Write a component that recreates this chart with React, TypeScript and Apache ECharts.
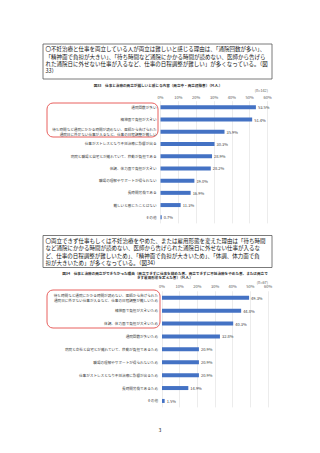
import React, { useEffect, useRef } from "react";
import * as echarts from "echarts";

const FONT = "Noto Sans CJK JP";

const box1Lines = [
  "〇不妊治療と仕事を両立している人が両立は難しいと感じる理由は、「通院回数が多い」、",
  "「精神面で負担が大きい」、「待ち時間など通院にかかる時間が読めない、医師から告げら",
  "れた通院日に外せない仕事が入るなど、仕事の日程調整が難しい」が多くなっている。（図",
  "33）",
];
const title1 = "図33　仕事と治療の両立が難しいと感じる内容（両立中・両立経験者）（M.A.）";
const n1 = "(n=142)";
const categories1 = [
  "通院回数が多い",
  "精神面で負担が大きい",
  "待ち時間など通院にかかる時間が読めない、医師から告げられた\n通院日に外せない仕事が入るなど、仕事の日程調整が難しい",
  "仕事がストレスとなり不妊治療に影響が出る",
  "病院と職場と自宅とが離れていて、移動が負担である",
  "体調、体力面で負担が大きい",
  "職場の理解やサポートが得られない",
  "長時間労働である",
  "難しいと感じたことはない",
  "その他",
];
const values1 = [53.5, 51.4, 35.9, 30.3, 28.9, 28.2, 19.0, 16.9, 11.3, 0.7];

const box2Lines = [
  "〇両立できず仕事もしくは不妊治療をやめた、または雇用形態を変えた理由は「待ち時間",
  "など通院にかかる時間が読めない、医師から告げられた通院日に外せない仕事が入るな",
  "ど、仕事の日程調整が難しいため」、「精神面で負担が大きいため」、「体調、体力面で負",
  "担が大きいため」が多くなっている。（図34）",
];
const title2Lines = [
  "図34　仕事と治療の両立ができなかった理由（両立できずに仕事を辞めた者、両立できずに不妊治療をやめた者、または両立で",
  "きず雇用形態を変えた者）（M.A.）",
];
const n2 = "(n=67)";
const categories2 = [
  "待ち時間など通院にかかる時間が読めない、医師から告げられた\n通院日に外せない仕事が入るなど、仕事の日程調整が難しいため",
  "精神面で負担が大きいため",
  "体調、体力面で負担が大きいため",
  "通院回数が多いため",
  "病院と会社と自宅とが離れていて、移動が負担であるため",
  "職場の理解やサポートが得られないため",
  "仕事がストレスとなり不妊治療に影響が出るため",
  "長時間労働であるため",
  "その他",
];
const values2 = [49.3, 44.8, 40.3, 32.8, 20.9, 20.9, 20.9, 14.9, 1.5];

const pageNumber = "3";

const BAR = "#4472C4";

function xAxisCfg(gridIndex: number, margin: number) {
  return {
    gridIndex,
    type: "value",
    position: "top",
    min: 0,
    max: 60,
    interval: 10,
    axisLabel: { formatter: "{value}%", fontSize: 4, color: "#595959", margin, fontFamily: FONT },
    splitLine: { show: true, lineStyle: { color: "#d9d9d9", width: 0.5 } },
    axisLine: { show: false },
    axisTick: { show: false },
  };
}

function yAxisCfg(gridIndex: number, data: string[]) {
  return {
    gridIndex,
    type: "category",
    data,
    inverse: true,
    axisLabel: {
      interval: 0,
      fontSize: 3.6,
      lineHeight: 5.5,
      color: "#404040",
      margin: 4,
      fontFamily: FONT,
    },
    axisLine: { show: false },
    axisTick: { show: false },
  };
}

function seriesCfg(idx: number, data: number[]) {
  return {
    type: "bar",
    xAxisIndex: idx,
    yAxisIndex: idx,
    data,
    barWidth: 4,
    itemStyle: { color: BAR },
    label: {
      show: true,
      position: "right",
      distance: 2,
      fontSize: 4,
      color: "#404040",
      fontFamily: FONT,
      formatter: (p: any) => Number(p.value).toFixed(1) + "%",
    },
  };
}

export default function App() {
  const ref = useRef<HTMLDivElement>(null);
  useEffect(() => {
    if (!ref.current) return;
    const chart = echarts.init(ref.current, undefined, { renderer: "svg" });
    chart.setOption({
      animation: false,
      backgroundColor: "#ffffff",
      textStyle: { fontFamily: FONT },
      grid: [
        { left: 160.5, width: 107, top: 101.2, height: 122.2 },
        { left: 162, width: 106, top: 291.3, height: 116.1 },
      ],
      xAxis: [xAxisCfg(0, 2.5), xAxisCfg(1, 3)],
      yAxis: [yAxisCfg(0, categories1), yAxisCfg(1, categories2)],
      series: [seriesCfg(0, values1), seriesCfg(1, values2)],
      graphic: [
        {
          type: "rect",
          shape: { x: 43, y: 44, width: 229, height: 35 },
          style: { fill: "none", stroke: "#595959", lineWidth: 0.8 },
        },
        {
          type: "text",
          x: 45.5,
          y: 45.5,
          style: {
            text: box1Lines.join("\n"),
            fontSize: 5.5,
            lineHeight: 7.4,
            fontFamily: FONT,
            fill: "#111",
          },
        },
        {
          type: "text",
          x: 158,
          y: 85,
          style: {
            text: title1,
            fontSize: 3.6,
            fontFamily: FONT,
            fontWeight: "bold",
            fill: "#333",
            align: "center",
            verticalAlign: "middle",
          },
        },
        {
          type: "text",
          x: 268,
          y: 90,
          style: { text: n1, fontSize: 3.8, fontFamily: FONT, fill: "#595959", align: "right", verticalAlign: "middle" },
        },
        {
          type: "rect",
          shape: { x: 47, y: 103, width: 111, height: 34, r: 6 },
          style: { fill: "none", stroke: "#E8605E", lineWidth: 1 },
        },
        {
          type: "rect",
          shape: { x: 43, y: 235.5, width: 229, height: 32 },
          style: { fill: "none", stroke: "#595959", lineWidth: 0.8 },
        },
        {
          type: "text",
          x: 45.5,
          y: 237,
          style: {
            text: box2Lines.join("\n"),
            fontSize: 5.5,
            lineHeight: 7.4,
            fontFamily: FONT,
            fill: "#111",
          },
        },
        {
          type: "text",
          x: 165,
          y: 271,
          style: {
            text: title2Lines.join("\n"),
            fontSize: 3.6,
            lineHeight: 4.6,
            fontFamily: FONT,
            fontWeight: "bold",
            fill: "#333",
            align: "center",
            verticalAlign: "top",
          },
        },
        {
          type: "text",
          x: 268,
          y: 282,
          style: { text: n2, fontSize: 3.8, fontFamily: FONT, fill: "#595959", align: "right", verticalAlign: "middle" },
        },
        {
          type: "rect",
          shape: { x: 47, y: 290, width: 113, height: 38, r: 6 },
          style: { fill: "none", stroke: "#E8605E", lineWidth: 1 },
        },
        {
          type: "text",
          x: 160,
          y: 429,
          style: { text: pageNumber, fontSize: 5, fontFamily: FONT, fill: "#222", align: "center", verticalAlign: "middle" },
        },
      ],
    });
    return () => chart.dispose();
  }, []);
  return (
    <div
      ref={ref}
      style={{ position: "fixed", left: 0, top: 0, width: 320, height: 453, background: "#fff" }}
    />
  );
}
